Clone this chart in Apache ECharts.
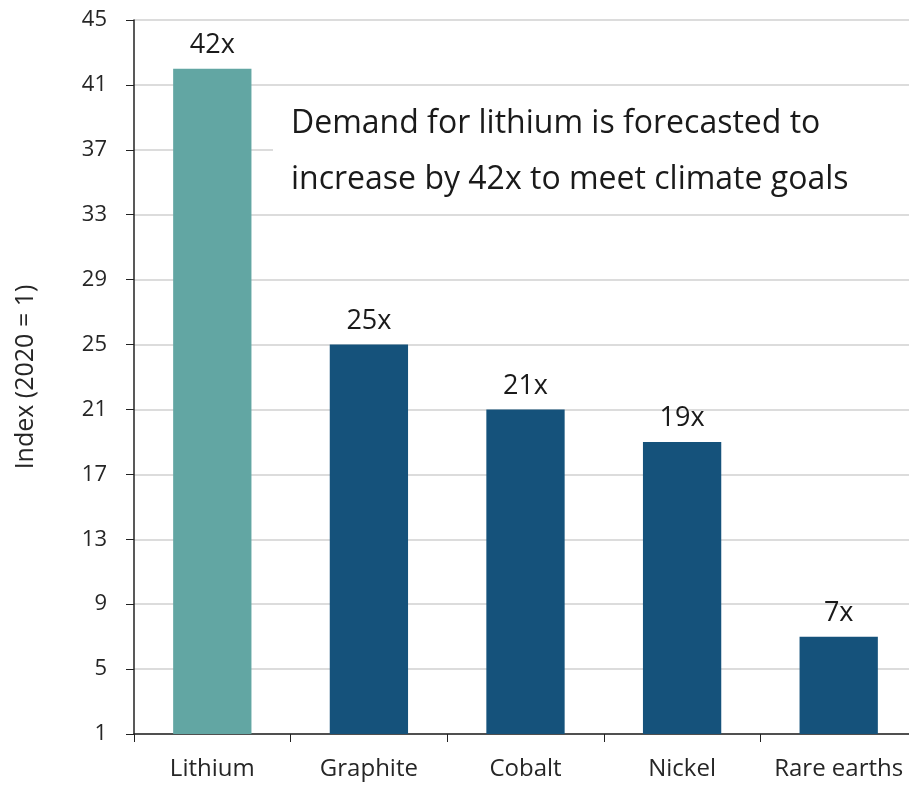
<!DOCTYPE html>
<html>
<head>
<meta charset="utf-8">
<script src="https://cdn.jsdelivr.net/npm/echarts@6/dist/echarts.min.js"></script>
<style>
html, body { margin: 0; padding: 0; background: #fff; }
#chart { width: 909px; height: 785px; }
</style>
</head>
<body>
<div id="chart"></div>
<script>
var categories = ['Lithium', 'Graphite', 'Cobalt', 'Nickel', 'Rare earths'];
var values = [42, 25, 21, 19, 7];
var barColors = ['#62a6a3', '#15527b', '#15527b', '#15527b', '#15527b'];
var note = 'Demand for lithium is forecasted to\nincrease by 42x to meet climate goals';

var font = '"Open Sans", "Noto Sans", sans-serif';
var chart = echarts.init(document.getElementById('chart'));

chart.setOption({
  animation: false,
  textStyle: { fontFamily: font },
  grid: { left: 134, right: -8, top: 20, bottom: 51, outerBoundsMode: 'none' },
  xAxis: {
    type: 'category',
    data: categories,
    axisLine: { lineStyle: { color: '#222', width: 1.5 } },
    axisTick: { show: true, length: 8, lineStyle: { color: '#222' } },
    axisLabel: { color: '#262626', fontSize: 24, margin: 23, interval: 0, fontFamily: font }
  },
  yAxis: {
    type: 'value',
    min: 1,
    max: 45,
    interval: 4,
    name: 'Index (2020 = 1)',
    nameLocation: 'middle',
    nameGap: 96,
    nameRotate: 90,
    nameTextStyle: { color: '#262626', fontSize: 25, fontFamily: font },
    axisLine: { show: true, lineStyle: { color: '#222', width: 1.5 } },
    axisTick: { show: true, length: 8, lineStyle: { color: '#222' } },
    axisLabel: { color: '#262626', fontSize: 22, margin: 27, fontFamily: font },
    splitLine: { show: true, lineStyle: { color: '#dcdcdc', width: 2 } }
  },
  series: [{
    type: 'bar',
    barWidth: '50%',
    data: values.map(function (v, i) {
      return { value: v, itemStyle: { color: barColors[i] } };
    }),
    label: {
      show: true,
      position: 'top',
      distance: 10,
      formatter: '{c}x',
      color: '#1a1a1a',
      fontSize: 27,
      fontFamily: font
    }
  }],
  graphic: [{
    type: 'text',
    left: 273,
    top: 92,
    z: 100,
    style: {
      text: note,
      fill: '#1a1a1a',
      font: '32px ' + font,
      lineHeight: 56,
      backgroundColor: '#fff',
      padding: [4, 120, 4, 18]
    }
  }]
});
</script>
</body>
</html>
